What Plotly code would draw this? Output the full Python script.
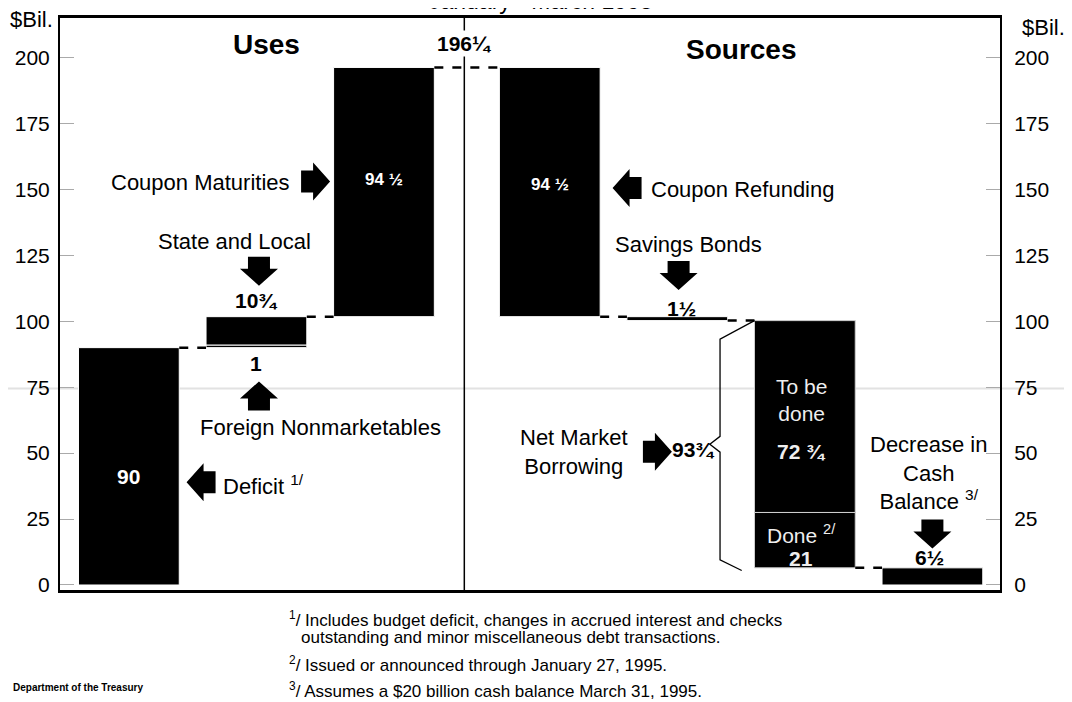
import plotly.graph_objects as go

# --- data (billions of dollars), January - March 1995 ---
uses_labels = ["Deficit", "Foreign Nonmarketables", "State and Local", "Coupon Maturities"]
uses_values = [90, 1, 10.75, 94.5]
uses_pos = [0, 1, 1, 2]

sources_labels = ["Coupon Refunding", "Savings Bonds", "To be done", "Done", "Decrease in Cash Balance"]
sources_values = [94.5, 1.5, 72.75, 21, 6.5]
sources_pos = [3.3, 4.3, 5.3, 5.3, 6.3]

tick_vals = [0, 25, 50, 75, 100, 125, 150, 175, 200]

FONT = "Liberation Sans, Arial, sans-serif"
BAR_W = 0.79

# uses stack upward from zero
uses_base = []
level = 0
for v in uses_values:
    uses_base.append(level)
    level += v
total = level

# sources step down from the total
src_base = []
level = total
for v in sources_values:
    level -= v
    src_base.append(level)

fig = go.Figure()

fig.add_trace(go.Bar(
    x=uses_pos, y=uses_values, base=uses_base, width=BAR_W,
    marker=dict(color="black", line=dict(color="white", width=1)),
    name="Uses", hoverinfo="skip",
))
fig.add_trace(go.Bar(
    x=sources_pos, y=sources_values, base=src_base, width=BAR_W,
    marker=dict(color="black",
                line=dict(color=["white", "white", "#d0d0d0", "#d0d0d0", "white"], width=1)),
    name="Sources", hoverinfo="skip",
))

# dashed connectors between successive bars
all_pos = uses_pos + sources_pos
steps = []
for i in range(len(all_pos) - 1):
    if all_pos[i] != all_pos[i + 1]:
        if i < len(uses_pos):
            lvl = uses_base[i] + uses_values[i]
        else:
            lvl = src_base[i - len(uses_pos)]
        steps.append((all_pos[i] + BAR_W / 2, all_pos[i + 1] - BAR_W / 2, lvl))
for x0, x1, lvl in steps:
    fig.add_trace(go.Scatter(
        x=[x0, x1], y=[lvl, lvl], mode="lines",
        line=dict(color="black", width=2.5, dash="dash"),
        hoverinfo="skip", showlegend=False,
    ))

# brace beside Net Market Borrowing
nmb_left = sources_pos[2] - BAR_W / 2
nmb_top = src_base[2] + sources_values[2]
nmb_bot = src_base[3]
nmb_mid = (nmb_top + nmb_bot) / 2
fig.add_trace(go.Scatter(
    x=[nmb_left, nmb_left - 0.27, nmb_left - 0.27, nmb_left - 0.35, nmb_left - 0.27,
       nmb_left - 0.27, nmb_left - 0.1],
    y=[nmb_top, nmb_top - 7, nmb_mid + 3, nmb_mid, nmb_mid - 3, nmb_bot + 3, nmb_bot - 1],
    mode="lines", line=dict(color="black", width=1.3),
    hoverinfo="skip", showlegend=False,
))

# middle divider
mid_x = 2.63
fig.add_shape(type="line", x0=mid_x, x1=mid_x, y0=-1.9, y1=215, xref="x", yref="y",
              line=dict(color="black", width=1.5))

# faint scan line across the page
fig.add_shape(type="line", x0=-0.07, x1=1.09, y0=74.5, y1=74.5, xref="paper", yref="y",
              line=dict(color="#e2e2e2", width=2), layer="below")


def arrow(x, y, d):
    pts = [(-14, -11), (-2, -11), (-2, -19), (15, 0), (-2, 19), (-2, 11), (-14, 11)]
    if d == "left":
        pts = [(-px, py) for px, py in pts]
    elif d == "down":
        pts = [(py, -px) for px, py in pts]
    elif d == "up":
        pts = [(-py, px) for px, py in pts]
    path = "M " + " L ".join(f"{px},{py}" for px, py in pts) + " Z"
    fig.add_shape(type="path", path=path, xref="x", yref="y",
                  xsizemode="pixel", ysizemode="pixel", xanchor=x, yanchor=y,
                  fillcolor="black", line=dict(width=0))


def txt(x, y, s, size=22, color="black", bold=False, xanchor="center", bg=None):
    if bold:
        s = f"<b>{s}</b>"
    fig.add_annotation(x=x, y=y, text=s, showarrow=False, xanchor=xanchor,
                       font=dict(family=FONT, size=size, color=color),
                       bgcolor=bg)


# headings
txt(1.08, 205, "Uses", size=28, bold=True)
txt(4.8, 203, "Sources", size=28, bold=True)
txt(mid_x, 205.5, "196¼", size=21, bold=True, bg="white")

# uses labels
txt(1.28, 152.5, "Coupon Maturities", xanchor="right")
arrow(1.46, 153, "right")
txt(uses_pos[3], 153.8, "94 ½", size=17, color="white", bold=True)

txt(0.83, 130.3, "State and Local")
arrow(1.02, 119.2, "down")
txt(uses_pos[2], 108, "10¾", size=21, bold=True)

txt(uses_pos[1], 84, "1", size=21, bold=True)
arrow(1.02, 71.5, "up")
txt(1.5, 59.8, "Foreign Nonmarketables")

txt(uses_pos[0], 41.1, "90", size=21, color="white", bold=True)
arrow(0.57, 39, "left")
txt(0.72, 38, "Deficit <sup>1/</sup>", xanchor="left")

# sources labels
txt(sources_pos[0], 152, "94 ½", size=17, color="white", bold=True)
arrow(3.91, 150.5, "left")
txt(4.08, 150, "Coupon Refunding", xanchor="left")

txt(4.39, 129, "Savings Bonds")
arrow(4.31, 117.5, "down")
txt(4.33, 104.8, "1½", size=21, bold=True)

txt(3.49, 50.5, "Net Market<br>Borrowing")
arrow(4.14, 50.5, "right")
txt(4.42, 51.5, "93¾", size=21, bold=True)

txt(5.27, 70, "To be<br>done", size=21, color="#eeeeee")
txt(5.27, 50.5, "72 ¾", size=21, color="#eeeeee", bold=True)
txt(5.27, 19.5, "Done <sup>2/</sup>", size=21, color="#eeeeee")
txt(5.27, 10.2, "21", size=21, color="#eeeeee", bold=True)

txt(6.27, 42.3, "Decrease in<br>Cash<br>Balance <sup>3/</sup>")
arrow(6.3, 19.5, "down")
txt(6.28, 10.6, "6½", size=21, bold=True)


# paper texts
def ptxt(x, y, s, size=17, xanchor="left", yanchor="middle"):
    fig.add_annotation(x=x, y=y, xref="paper", yref="paper", text=s, showarrow=False,
                       xanchor=xanchor, yanchor=yanchor,
                       font=dict(family=FONT, size=size, color="black"))


ptxt(0.512, 1.003, "January - March 1995", size=23, xanchor="center", yanchor="bottom")
ptxt(-0.055, 0.997, "$Bil.", size=22)
ptxt(1.021, 0.983, "$Bil.", size=22)
ptxt(0.242, -0.0504, "<sup>1</sup>/ Includes budget deficit, changes in accrued interest and checks")
ptxt(0.254, -0.0835, "outstanding and minor miscellaneous debt transactions.")
ptxt(0.242, -0.1287, "<sup>2</sup>/ Issued or announced through January 27, 1995.")
ptxt(0.242, -0.174, "<sup>3</sup>/ Assumes a $20 billion cash balance March 31, 1995.")
ptxt(-0.052, -0.170, "<b>Department of the Treasury</b>", size=10)

fig.update_layout(
    width=1072, height=702,
    margin=dict(l=49, r=80, t=7, b=120),
    paper_bgcolor="white", plot_bgcolor="white",
    barmode="overlay", showlegend=False,
    font=dict(family=FONT, size=21, color="black"),
    xaxis=dict(range=[-0.54, 6.83], showgrid=False, zeroline=False,
               showticklabels=False, ticks="", showline=True, linecolor="black",
               linewidth=2.5, mirror=True),
    yaxis=dict(range=[-1.9, 215], tickvals=tick_vals, showgrid=False, zeroline=False,
               ticks="inside", ticklen=14, tickcolor="#aaaaaa", tickwidth=1,
               showline=True, linecolor="black", linewidth=2,
               tickfont=dict(family=FONT, size=21), ticklabelstandoff=4),
    yaxis2=dict(range=[-1.9, 215], tickvals=tick_vals, overlaying="y", side="right",
                showgrid=False, zeroline=False,
                ticks="inside", ticklen=14, tickcolor="#aaaaaa", tickwidth=1,
                showline=True, linecolor="black", linewidth=2,
                tickfont=dict(family=FONT, size=21), ticklabelstandoff=8),
)

# empty trace so the right axis is drawn
fig.add_trace(go.Scatter(x=[None], y=[None], yaxis="y2", showlegend=False, hoverinfo="skip"))

fig.write_html("out.html")
